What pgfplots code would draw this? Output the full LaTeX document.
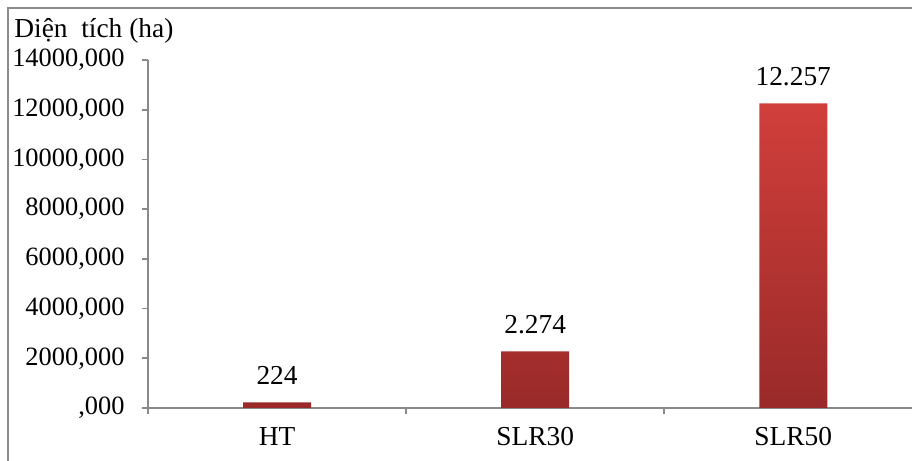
\documentclass[border=0pt]{standalone}
\usepackage{pgfplots}
\pgfplotsset{compat=1.18}
\usepackage{fontspec}
\setmainfont{Liberation Serif}
\definecolor{axisgray}{HTML}{898989}
\definecolor{framegray}{HTML}{8C8C8C}
\definecolor{bartop}{HTML}{D13F3B}
\definecolor{barbot}{HTML}{992A29}
\begin{document}
\fontsize{13.7}{16}\selectfont
\begin{tikzpicture}[x=1pt,y=1pt]
\useasboundingbox (-74,-26.5) rectangle (382,204);
% outer chart frame
\draw[framegray, line width=0.8pt] (-70,-40) -- (-70,200) -- (400,200);
\node[anchor=base west, inner sep=0pt] at (-67,185) {Diện\ \ tích (ha)};
\begin{axis}[
  at={(0,0)}, anchor=south west,
  scale only axis, width=382pt, height=174pt,
  xmin=-0.5, xmax=2.46, ymin=0, ymax=14000,
  axis lines*=left,
  axis line style={axisgray, line width=0.8pt},
  tick style={axisgray, line width=0.8pt},
  tick align=outside, major tick length=3pt,
  scaled y ticks=false,
  ytick={0,2000,...,14000},
  yticklabels={{,000},{2000,000},{4000,000},{6000,000},{8000,000},{10000,000},{12000,000},{14000,000}},
  yticklabel style={xshift=-4pt, font=\fontsize{13.2}{15}\selectfont},
  xtick={-0.5,0.5,1.5}, xticklabels={},
  extra x ticks={0,1,2},
  extra x tick labels={HT,SLR30,SLR50},
  extra x tick style={major tick length=0pt, xticklabel style={yshift=-5pt}},
  /pgf/number format/.cd, fixed, precision=0, 1000 sep={.}, assume math mode=true,
  /pgfplots/.cd,
  ybar, bar width=34pt,
  nodes near coords,
  every node near coord/.append style={yshift=4pt, text=black},
]
\addplot[draw=none, top color=bartop, bottom color=barbot] coordinates {(0,224) (1,2274) (2,12257)};
\end{axis}
\end{tikzpicture}
\end{document}
